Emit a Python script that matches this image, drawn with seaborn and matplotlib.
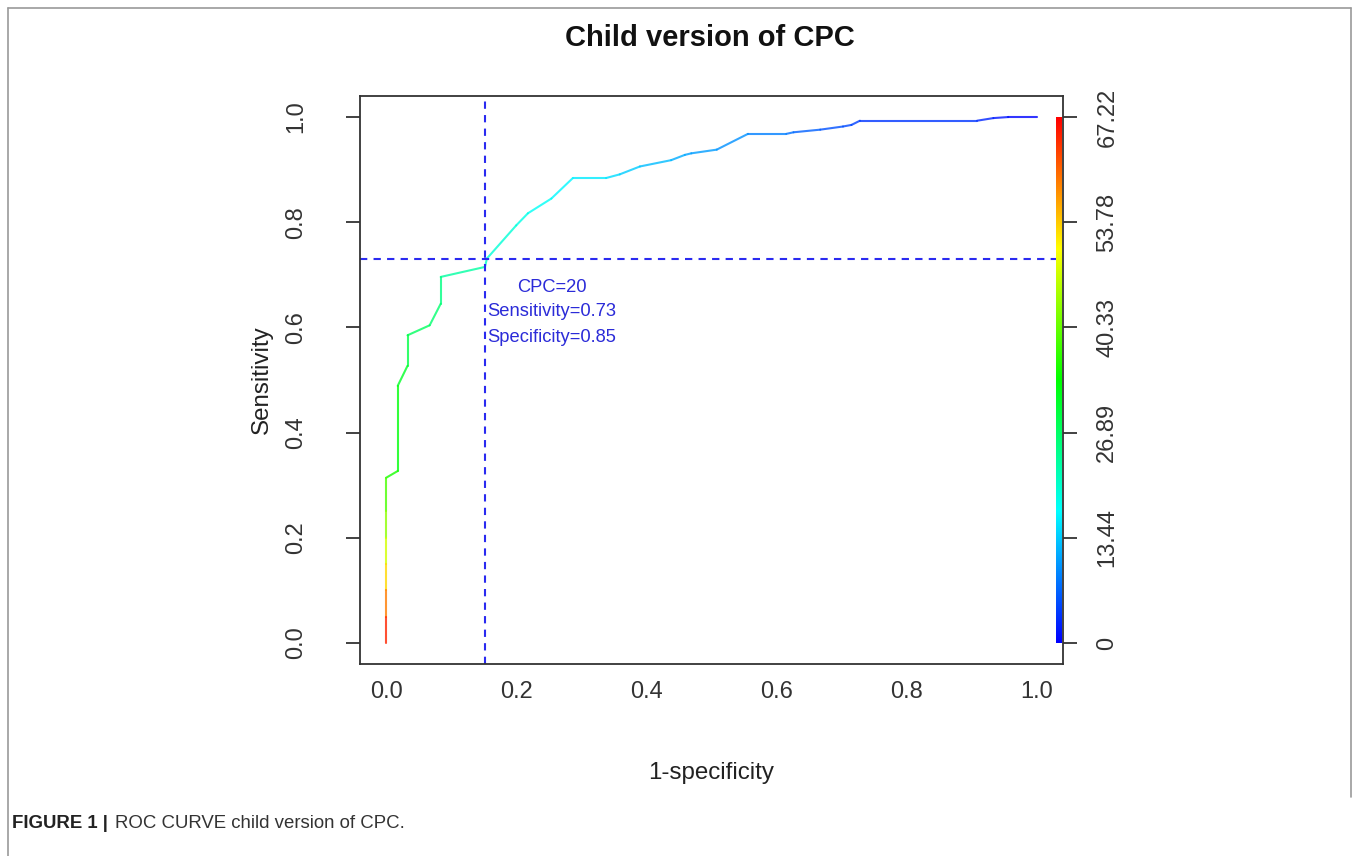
import numpy as np
import pandas as pd
import matplotlib
matplotlib.use("Agg")
import matplotlib.pyplot as plt
import seaborn as sns
from matplotlib.colors import LinearSegmentedColormap
from matplotlib.lines import Line2D

# ROC points: 1-specificity, sensitivity and the CPC cutoff of each point
fpr = [0.0, 0.0, 0.0, 0.0, 0.0, 0.0, 0.0, 0.018, 0.018, 0.033, 0.033, 0.067, 0.084, 0.084,
       0.152, 0.155, 0.200, 0.218, 0.254, 0.287, 0.338, 0.359, 0.390, 0.438, 0.459, 0.469,
       0.508, 0.556, 0.615, 0.626, 0.667, 0.702, 0.715, 0.728, 0.908, 0.933, 0.956, 1.0]
tpr = [0.0, 0.05, 0.10, 0.15, 0.20, 0.25, 0.314, 0.327, 0.489, 0.527, 0.585, 0.604, 0.645, 0.696,
       0.715, 0.731, 0.794, 0.817, 0.845, 0.884, 0.884, 0.891, 0.906, 0.918, 0.928, 0.931,
       0.938, 0.968, 0.968, 0.971, 0.976, 0.982, 0.985, 0.993, 0.993, 0.998, 1.0, 1.0]
cutoff = [67.22, 62, 56, 50, 45, 41, 36, 34, 32, 30, 28, 27, 26, 24,
          22, 20, 19, 18, 17, 16, 15, 14, 13, 12, 11, 10.5,
          10, 9, 8, 7, 6, 5, 4.5, 4, 3, 2, 1, 0]

cutoff_ticks = [0, 0.2, 0.4, 0.6, 0.8, 1.0]
cutoff_labels = ["0", "13.44", "26.89", "40.33", "53.78", "67.22"]
cpc_max = 67.22
best_cpc = 20
best_sens = 0.73
best_spec = 0.85

W, H = 1358, 856

sns.set_style("white")
plt.rcParams['font.family'] = ['Liberation Sans', 'DejaVu Sans']

rainbow = LinearSegmentedColormap.from_list(
    "roc_rainbow", ["#0000ff", "#00ffff", "#00ff00", "#ffff00", "#ff0000"])

fig = plt.figure(figsize=(W / 100, H / 100), dpi=100)
ax = fig.add_axes([360 / W, 1 - 664 / H, 703 / W, 568 / H])

# two rows per segment so every piece of the curve gets its own cutoff colour
rows = []
for i in range(len(fpr) - 1):
    c = (cutoff[i] + cutoff[i + 1]) / 2
    rows.append({"seg": i, "fpr": fpr[i], "tpr": tpr[i], "cut": c})
    rows.append({"seg": i, "fpr": fpr[i + 1], "tpr": tpr[i + 1], "cut": c})
seg_df = pd.DataFrame(rows)

sns.lineplot(data=seg_df, x="fpr", y="tpr", hue="cut", units="seg", estimator=None,
             sort=False, palette=rainbow, hue_norm=(0, cpc_max), legend=False,
             linewidth=1.5, alpha=0.8, solid_capstyle="round", ax=ax)

# optimal cutoff guides
dash_col = "#2a2af0"
ax.axvline(1 - best_spec + 0.002, color=dash_col, ls=(0, (3.5, 3)), lw=1.5)
ax.axhline(best_sens, color=dash_col, ls=(0, (3.5, 3)), lw=1.5)

txt_col = "#2b2bd8"
ax.text(0.255, 0.676, f"CPC={best_cpc}", color=txt_col, fontsize=13.2, ha="center", va="center")
ax.text(0.155, 0.630, f"Sensitivity={best_sens:.2f}", color=txt_col, fontsize=13.2, ha="left", va="center")
ax.text(0.155, 0.580, f"Specificity={best_spec:.2f}", color=txt_col, fontsize=13.2, ha="left", va="center")

# colour key strip along the right edge
ax.imshow(np.linspace(0, 1, 256).reshape(-1, 1), cmap=rainbow, origin="lower",
          extent=[1.029, 1.038, 0, 1], aspect="auto", zorder=3)

ax.set_xlim(-0.04, 1.04)
ax.set_ylim(-0.04, 1.04)
ax.set_xticks([0, 0.2, 0.4, 0.6, 0.8, 1.0], ["0.0", "0.2", "0.4", "0.6", "0.8", "1.0"])
ax.set_yticks([0, 0.2, 0.4, 0.6, 0.8, 1.0], ["0.0", "0.2", "0.4", "0.6", "0.8", "1.0"],
              rotation=90, va="center")
ax.set_xlabel("1-specificity", fontsize=17.4, color="#222222", labelpad=43)
ax.set_ylabel("Sensitivity", fontsize=17.4, color="#222222", labelpad=9)
ax.tick_params(direction="out", length=10, width=1.3, colors="#333333",
               labelsize=17, labelcolor="#333333")
ax.tick_params(axis="x", pad=2)
ax.tick_params(axis="y", pad=28)
for sp in ax.spines.values():
    sp.set_color("#333333")
    sp.set_linewidth(1.3)

ax2 = ax.twinx()
ax2.set_ylim(-0.04, 1.04)
ax2.set_yticks(cutoff_ticks, cutoff_labels, rotation=90, va="center")
ax2.tick_params(direction="out", length=10, width=1.3, colors="#333333",
                labelsize=17, labelcolor="#333333", pad=14)
for sp in ax2.spines.values():
    sp.set_visible(False)

fig.text(710 / W, 1 - 38 / H, "Child version of CPC", fontsize=21, fontweight="bold",
         ha="center", va="center", color="#111111")

# frame and caption
frame_col = "#9a9a9a"
fig.add_artist(Line2D([8 / W, 8 / W], [0, 1 - 8 / H], transform=fig.transFigure, color=frame_col, lw=1.2))
fig.add_artist(Line2D([8 / W, 1351 / W], [1 - 8 / H, 1 - 8 / H], transform=fig.transFigure, color=frame_col, lw=1.2))
fig.add_artist(Line2D([1351 / W, 1351 / W], [1 - 8 / H, 1 - 797 / H], transform=fig.transFigure, color=frame_col, lw=1.2))

fig.text(12 / W, 1 - 823 / H, "FIGURE 1 |", fontsize=13.4, fontweight="bold",
         ha="left", va="center", color="#222222")
fig.text(115 / W, 1 - 823 / H, "ROC CURVE child version of CPC.", fontsize=13.4,
         ha="left", va="center", color="#333333")

fig.savefig("out.png", dpi=100)
